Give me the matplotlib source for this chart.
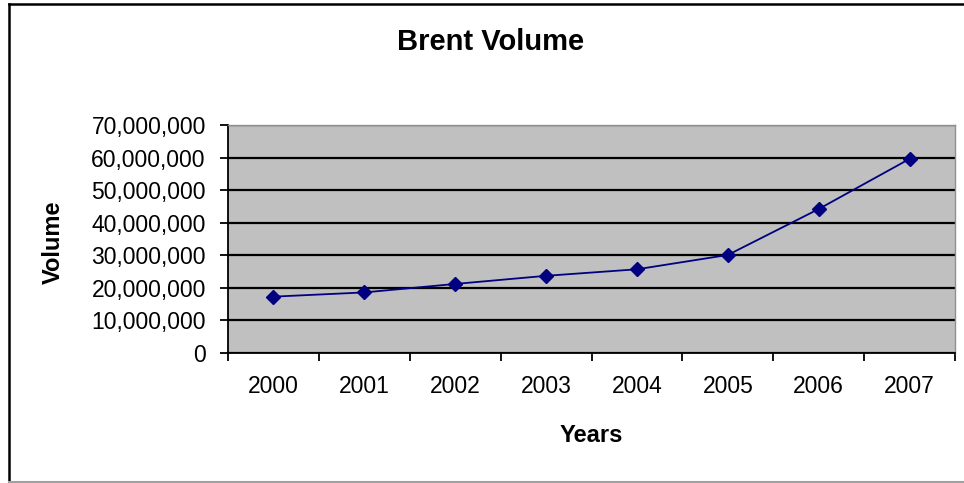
import matplotlib
matplotlib.use("Agg")
from matplotlib import pyplot as plt
from matplotlib.lines import Line2D
from matplotlib.ticker import FuncFormatter

years = ["2000", "2001", "2002", "2003", "2004", "2005", "2006", "2007"]
volume = [17300000, 18600000, 21200000, 23700000, 25700000, 30100000, 44200000, 59600000]
yticks = [0, 10000000, 20000000, 30000000, 40000000, 50000000, 60000000, 70000000]

plt.rcParams['font.family'] = ['Liberation Sans', 'DejaVu Sans']

W, H = 964, 483
fig = plt.figure(figsize=(W / 100, H / 100), dpi=100)
ax = fig.add_axes([228/W, 1 - 353/H, (955 - 228)/W, (353 - 125)/H])
ax.set_facecolor("#c0c0c0")

# outer chart frame (left + top black, bottom grey)
fig.lines.append(Line2D([9/W, 9/W], [1 - 482/H, 1 - 4/H], transform=fig.transFigure,
                        color="black", linewidth=1.8))
fig.lines.append(Line2D([9/W, 1.0], [1 - 4/H, 1 - 4/H], transform=fig.transFigure,
                        color="black", linewidth=1.8))
fig.lines.append(Line2D([9/W, 1.0], [1 - 482/H, 1 - 482/H], transform=fig.transFigure,
                        color="#a0a0a0", linewidth=1.5))

x = list(range(len(years)))
ax.plot(x, volume, color="#000080", linewidth=1.3, marker="D", markersize=7.5,
        markerfacecolor="#000080", markeredgecolor="#000080", zorder=3)

ax.set_ylim(0, 70000000)
ax.set_yticks(yticks)
ax.yaxis.set_major_formatter(FuncFormatter(lambda v, p: f"{int(v):,}"))
ax.yaxis.grid(True, color="black", linewidth=1.6)
ax.set_axisbelow(True)

ax.set_xlim(-0.5, len(years) - 0.5)
ax.set_xticks([i - 0.5 for i in range(len(years) + 1)])
ax.set_xticklabels([])
ax.set_xticks(x, minor=True)
ax.set_xticklabels(years, minor=True)
ax.tick_params(axis="x", which="minor", length=0, pad=16, labelsize=16.5)
ax.tick_params(axis="x", which="major", length=6, width=1.3, direction="out")
ax.tick_params(axis="y", length=6, width=1.3, direction="out", pad=10, labelsize=16.5)

for s in ["left", "bottom"]:
    ax.spines[s].set_color("black")
    ax.spines[s].set_linewidth(1.3)
for s in ["top", "right"]:
    ax.spines[s].set_color("#909090")
    ax.spines[s].set_linewidth(1.0)

fig.text(491/W, 1 - 42/H, "Brent Volume", ha="center", va="center",
         fontsize=21, fontweight="bold")
fig.text(591/W, 1 - 436/H, "Years", ha="center", va="center",
         fontsize=17, fontweight="bold")
fig.text(53/W, 1 - 242/H, "Volume", ha="center", va="center", rotation=90,
         fontsize=17, fontweight="bold")

fig.savefig("out.png", dpi=100)
